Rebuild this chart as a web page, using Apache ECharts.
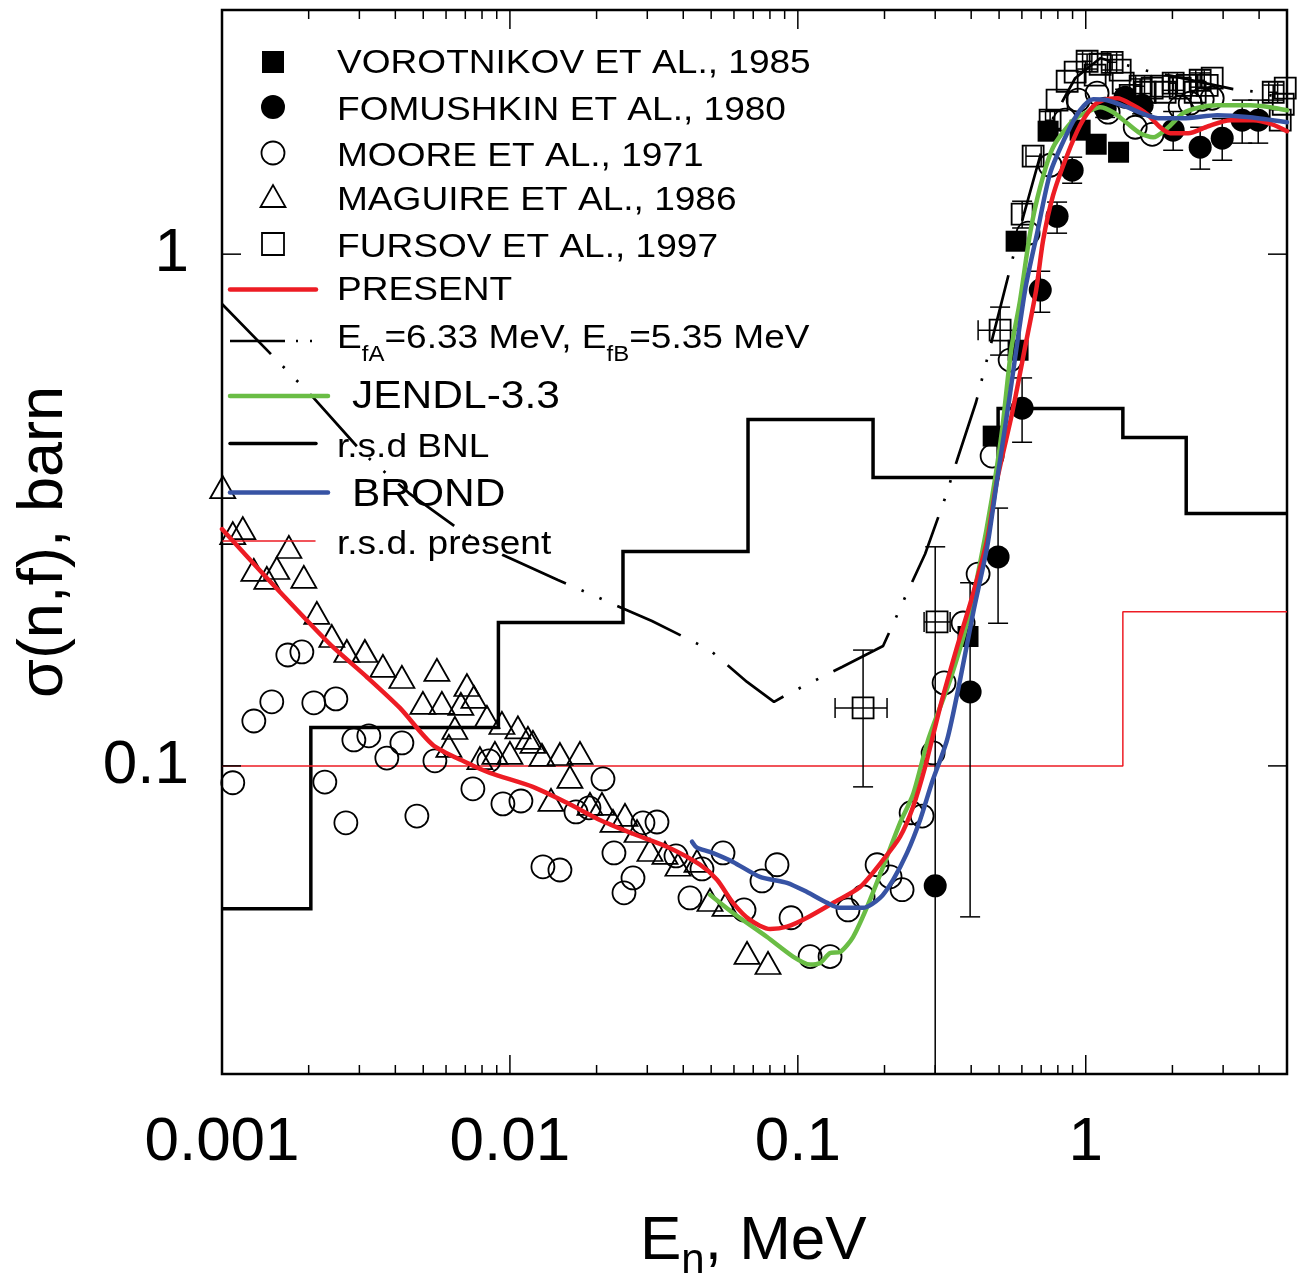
<!DOCTYPE html>
<html>
<head>
<meta charset="utf-8">
<title>Fission cross section</title>
<script src="https://cdn.jsdelivr.net/npm/echarts@6/dist/echarts.min.js"></script>
<style>
  html, body { margin: 0; padding: 0; background: #fff; }
  #chart { width: 1299px; height: 1282px; }
</style>
</head>
<body>
<div id="chart"></div>
<script>
// ---- axis ticks and labels ----
const xMajorTicks = [0.001, 0.01, 0.1, 1];
const xTickLabels = ['0.001', '0.01', '0.1', '1'];
const xMinorTicks = [0.002, 0.003, 0.004, 0.005, 0.006, 0.007, 0.008, 0.009,
                     0.02, 0.03, 0.04, 0.05, 0.06, 0.07, 0.08, 0.09,
                     0.2, 0.3, 0.4, 0.5, 0.6, 0.7, 0.8, 0.9, 2, 3, 4];
const yMajorTicks = [0.1, 1];
const yTickLabels = ['0.1', '1'];

// ---- experimental data: [E (MeV), sigma (b), ...] ----
// Vorotnikov et al., 1985
const vorotnikov = [[0.390, 0.179], [0.477, 0.441], [0.582, 0.649], [0.573, 1.060],
  [0.740, 1.739], [0.956, 1.747], [1.087, 1.640], [1.300, 1.582]];

// Fomushkin et al., 1980: [E, sigma, lower, upper]  (lower 0 = bar runs off the axis)
const fomushkin = [
  [0.300, 0.0583, 0, 0.268], [0.3966, 0.1395, 0.0507, 0.228], [0.496, 0.256, 0.190, 0.319],
  [0.601, 0.500, 0.429, 0.573], [0.695, 0.851, 0.770, 0.926], [0.795, 1.186, 1.099, 1.264],
  [0.897, 1.459, 1.376, 1.547], [1.168, 1.928, 1.85, 2.01], [1.370, 2.026, 1.95, 2.10],
  [1.570, 1.954, 1.88, 2.03], [2.012, 1.747, 1.596, 1.90], [2.497, 1.618, 1.466, 1.77],
  [2.978, 1.685, 1.526, 1.84], [3.494, 1.827, 1.648, 2.00], [3.972, 1.827, 1.648, 2.00]];

// Moore et al., 1971
const moore = [
  [0.00109, 0.0927], [0.00129, 0.1224], [0.001489, 0.1334], [0.001693, 0.1647], [0.001894, 0.1670],
  [0.002084, 0.1328], [0.002276, 0.0930], [0.002486, 0.1352], [0.002693, 0.0774], [0.002871, 0.1124],
  [0.003236, 0.1145], [0.003737, 0.1036], [0.004215, 0.1109], [0.004752, 0.0798], [0.005489, 0.1023],
  [0.007437, 0.0902], [0.008453, 0.1023], [0.009456, 0.0843], [0.01092, 0.0854], [0.01302, 0.0635],
  [0.01492, 0.0626], [0.01696, 0.0813], [0.01882, 0.0828], [0.02105, 0.0943], [0.02298, 0.0676],
  [0.0249, 0.0565], [0.02676, 0.0604], [0.02898, 0.0774], [0.03242, 0.0777], [0.03774, 0.0667],
  [0.04221, 0.0552], [0.04646, 0.0629], [0.05497, 0.0676], [0.06503, 0.0523], [0.07508, 0.0596],
  [0.08467, 0.0641], [0.09471, 0.0505], [0.1103, 0.0424], [0.1294, 0.0424], [0.1494, 0.0523],
  [0.1685, 0.0555], [0.1885, 0.0641], [0.2091, 0.0607], [0.2302, 0.0573], [0.2474, 0.0810],
  [0.2702, 0.0798], [0.2950, 0.1060], [0.3221, 0.1453], [0.3750, 0.1902], [0.4228, 0.2371],
  [0.4729, 0.4031], [0.5462, 0.6209], [0.6307, 1.099], [0.7520, 1.492], [0.8480, 1.827],
  [0.9410, 1.999], [1.095, 2.063], [1.196, 1.894], [1.485, 1.770], [1.701, 1.715],
  [2.128, 1.937], [2.306, 1.972], [2.538, 2.008], [2.749, 2.017]];

// Maguire et al., 1986
const maguire = [
  [0.001006, 0.3507], [0.00109, 0.2851], [0.001181, 0.2916], [0.001707, 0.2678], [0.00129, 0.2415],
  [0.00155, 0.2436], [0.001431, 0.2330], [0.001924, 0.2340], [0.002135, 0.1990], [0.002407, 0.1794],
  [0.002714, 0.1677], [0.003135, 0.1677], [0.003621, 0.1568], [0.004215, 0.1492], [0.005577, 0.1540],
  [0.004986, 0.1328], [0.005804, 0.1328], [0.00709, 0.1439], [0.007497, 0.1364], [0.006755, 0.1322],
  [0.00832, 0.1247], [0.00938, 0.1213], [0.00644, 0.1186], [0.006138, 0.1094], [0.007866, 0.1036],
  [0.00887, 0.1060], [0.0100, 0.1060], [0.01066, 0.1189], [0.01155, 0.1134], [0.01202, 0.1114],
  [0.01292, 0.1051], [0.01492, 0.1055], [0.01751, 0.1060], [0.01616, 0.0952], [0.01389, 0.0858],
  [0.01897, 0.0843], [0.02088, 0.0843], [0.0228, 0.0781], [0.0251, 0.0802], [0.02763, 0.0746],
  [0.03065, 0.0685], [0.03456, 0.0676], [0.03834, 0.0641], [0.04465, 0.0652], [0.04953, 0.0547],
  [0.05585, 0.0535], [0.06661, 0.0431], [0.07878, 0.0412]];

// Fursov et al., 1997: [E, sigma, Elow, Ehigh, sigmaLow, sigmaHigh]
const fursov = [
  [0.1685, 0.1298, 0.1347, 0.2041, 0.0910, 0.1684],
  [0.3045, 0.1911, 0.2745, 0.3380, null, null],
  [0.5041, 0.7102, 0.4228, 0.590, 0.635, 0.788],
  [0.6012, 1.197, null, null, 1.125, 1.269],
  [0.6565, 1.554, 0.620, 0.700, null, null],
  [0.7520, 1.827, 0.725, 0.780, 1.76, 1.90],
  [0.795, 1.999, null, null, null, null],
  [0.8618, 2.177, null, null, null, null],
  [0.9187, 2.268, null, null, null, null],
  [1.011, 2.382, 0.975, 1.050, 2.30, 2.46],
  [1.078, 2.237, null, null, null, null],
  [1.122, 2.350, null, null, null, null],
  [1.235, 2.371, 1.19, 1.28, 2.29, 2.45],
  [1.317, 2.288, null, null, null, null],
  [1.349, 2.158, null, null, null, null],
  [1.427, 2.044, null, null, null, null],
  [1.545, 2.129, 1.49, 1.60, 2.06, 2.20],
  [1.608, 2.072, null, null, null, null],
  [1.701, 2.110, null, null, null, null],
  [1.843, 2.129, null, null, null, null],
  [1.887, 2.072, null, null, null, null],
  [2.012, 2.158, 1.94, 2.08, 2.09, 2.23],
  [2.128, 2.110, null, null, null, null],
  [2.251, 2.138, null, null, null, null],
  [2.399, 2.072, null, null, null, null],
  [2.497, 2.187, 2.41, 2.58, 2.12, 2.26],
  [2.641, 2.138, null, null, null, null],
  [2.749, 2.207, null, null, null, null],
  [4.478, 2.072, 4.32, 4.64, 2.00, 2.14],
  [4.93, 2.110, null, null, null, null],
  [4.852, 1.963, null, null, null, null],
  [4.736, 1.827, null, null, null, null]];

// ---- evaluated / calculated curves ----
const present = [
  [0.001, 0.2903], [0.001431, 0.2330], [0.001864, 0.1990], [0.002427, 0.1708], [0.003185, 0.1492],
  [0.004148, 0.1298], [0.0054, 0.1099], [0.00709, 0.1014], [0.008522, 0.0969], [0.01202, 0.0910],
  [0.01578, 0.0847], [0.02054, 0.0784], [0.02676, 0.0737], [0.03512, 0.0695], [0.04573, 0.0641],
  [0.05239, 0.0599], [0.05955, 0.0540], [0.06823, 0.0500], [0.0801, 0.0480], [0.0917, 0.0485],
  [0.1076, 0.0505], [0.1326, 0.0540], [0.1645, 0.0580], [0.1977, 0.0655], [0.2265, 0.0727],
  [0.2514, 0.0832], [0.2767, 0.0995], [0.3120, 0.1303], [0.3574, 0.1708], [0.4030, 0.2138],
  [0.4545, 0.2763], [0.4921, 0.3620], [0.5551, 0.4892], [0.6157, 0.6584], [0.6725, 0.851],
  [0.7112, 1.065], [0.7703, 1.304], [0.8618, 1.561], [0.9561, 1.786], [1.061, 1.945],
  [1.150, 1.999], [1.286, 2.017], [1.461, 1.954], [1.634, 1.877], [1.813, 1.770],
  [1.965, 1.723], [2.269, 1.723], [2.663, 1.778], [3.175, 1.827], [3.816, 1.827],
  [4.442, 1.794], [5.0, 1.739]];

const jendl = [
  [0.04953, 0.0560], [0.05955, 0.0516], [0.0782, 0.0463], [0.0962, 0.0424], [0.1103, 0.0409],
  [0.1195, 0.0412], [0.1294, 0.0431], [0.1402, 0.0433], [0.1555, 0.0463], [0.1740, 0.0530],
  [0.1977, 0.0635], [0.2265, 0.0774], [0.2514, 0.0880], [0.2835, 0.1124], [0.3380, 0.1472],
  [0.3872, 0.1902], [0.4296, 0.2492], [0.4729, 0.3353], [0.5122, 0.4532], [0.5506, 0.6494],
  [0.5916, 0.8133], [0.6408, 1.099], [0.6944, 1.352], [0.7703, 1.618], [0.9041, 1.827],
  [1.011, 1.894], [1.122, 1.937], [1.245, 1.894], [1.393, 1.802], [1.545, 1.723],
  [1.715, 1.692], [1.918, 1.762], [2.180, 1.886], [2.497, 1.937], [2.861, 1.954],
  [3.726, 1.954], [4.372, 1.937], [5.0, 1.911]];

const brond = [
  [0.0429, 0.0711], [0.04465, 0.0692], [0.04953, 0.0679], [0.05955, 0.0649], [0.0739, 0.0607],
  [0.0917, 0.0591], [0.1076, 0.0567], [0.1264, 0.0540], [0.1402, 0.0528], [0.1685, 0.0528],
  [0.1930, 0.0552], [0.2142, 0.0599], [0.2395, 0.0676], [0.2658, 0.0784], [0.2927, 0.0930],
  [0.3299, 0.1124], [0.3660, 0.1472], [0.4062, 0.1990], [0.4545, 0.2678], [0.4921, 0.3620],
  [0.5418, 0.5187], [0.6157, 0.851], [0.6778, 1.099], [0.7520, 1.439], [0.8618, 1.723],
  [0.9561, 1.911], [1.061, 2.008], [1.187, 1.999], [1.393, 1.937], [1.634, 1.868],
  [1.813, 1.843], [2.180, 1.843], [2.861, 1.868], [3.726, 1.851], [5.0, 1.810]];

// calculation with barrier heights EfA = 6.33 MeV, EfB = 5.35 MeV
const barrierCalc = [
  [0.001, 0.799], [0.001538, 0.6237], [0.002084, 0.5233], [0.003085, 0.4087], [0.004458, 0.3413],
  [0.006866, 0.2864], [0.009456, 0.2583], [0.01468, 0.2308], [0.02006, 0.2138], [0.03114, 0.1919],
  [0.0429, 0.1754], [0.04953, 0.1684], [0.06661, 0.1459], [0.08265, 0.1334], [0.0910, 0.1376],
  [0.1424, 0.1561], [0.1977, 0.1715], [0.2395, 0.2177], [0.2767, 0.2595], [0.3247, 0.3338],
  [0.3574, 0.3960], [0.4161, 0.5141], [0.5041, 0.7843], [0.6060, 1.181], [0.7400, 1.770],
  [0.9187, 2.207], [1.122, 2.415], [1.393, 2.340], [1.545, 2.298], [3.253, 2.101],
  [4.036, 2.072], [5.0, 1.999]];

// relative standard deviations (group-wise histograms)
const bnlEdges = [0.001, 0.002035, 0.00912, 0.0247, 0.06714, 0.1825, 0.4961, 1.3455, 2.233, 5];
const bnlRsd = [0.0526, 0.1189, 0.1907, 0.2624, 0.4751, 0.3661, 0.4995, 0.4385, 0.3115];
const presentRsdEdges = [0.001, 1.3455, 5];
const presentRsd = [0.1, 0.2];

// ---- helpers ----
const FONT = '"Liberation Sans", Arial, Helvetica, sans-serif';
const RED = '#ED1C24', GREEN = '#6ABD45', BLUE = '#3753A4';
const CAP = 10;

function stepPoints(edges, vals) {
  const pts = edges.slice(0, -1).map((e, i) => [e, vals[i]]);
  pts.push([edges[edges.length - 1], vals[vals.length - 1]]);
  return pts;
}

function tickLabel(ticks, labels) {
  return function (v) {
    for (let i = 0; i < ticks.length; i++) {
      if (Math.abs(Math.log10(v) - Math.log10(ticks[i])) < 1e-6) return labels[i];
    }
    return '';
  };
}

function seg(x1, y1, x2, y2, w) {
  return { type: 'line', shape: { x1: x1, y1: y1, x2: x2, y2: y2 },
           style: { stroke: '#000', lineWidth: w || 1.5 } };
}

// vertical error bars with caps; optional horizontal bars
function errorRender(xLoDim, xHiDim, yLoDim, yHiDim) {
  return function (params, api) {
    const cs = params.coordSys;
    const e = api.value(0), s = api.value(1);
    const c = api.coord([e, s]);
    const kids = [];
    if (yHiDim != null) {
      const hi = api.value(yHiDim);
      if (!isNaN(hi)) {
        const yt = api.coord([e, hi])[1];
        kids.push(seg(c[0], c[1], c[0], yt), seg(c[0] - CAP, yt, c[0] + CAP, yt));
      }
    }
    if (yLoDim != null) {
      const lo = api.value(yLoDim);
      if (!isNaN(lo)) {
        if (lo > 0) {
          const yb = api.coord([e, lo])[1];
          kids.push(seg(c[0], c[1], c[0], yb), seg(c[0] - CAP, yb, c[0] + CAP, yb));
        } else {
          kids.push(seg(c[0], c[1], c[0], cs.y + cs.height));
        }
      }
    }
    if (xLoDim != null) {
      const lo = api.value(xLoDim), hi = api.value(xHiDim);
      if (!isNaN(lo) && !isNaN(hi)) {
        const xl = api.coord([lo, s])[0], xr = api.coord([hi, s])[0];
        kids.push(seg(xl, c[1], xr, c[1]),
                  seg(xl, c[1] - CAP, xl, c[1] + CAP),
                  seg(xr, c[1] - CAP, xr, c[1] + CAP));
      }
    }
    return { type: 'group', children: kids };
  };
}

function xTickRender(params, api) {
  const cs = params.coordSys;
  const x = api.coord([api.value(0), 1])[0];
  const len = api.value(2) ? 19 : 9;
  const b = cs.y + cs.height;
  return { type: 'group', children: [seg(x, b, x, b - len), seg(x, cs.y, x, cs.y + len)] };
}

function yTickRender(params, api) {
  const cs = params.coordSys;
  const y = api.coord([0.01, api.value(1)])[1];
  const r = cs.x + cs.width;
  return { type: 'group', children: [seg(cs.x, y, cs.x + 19, y), seg(r, y, r - 19, y)] };
}

function lineSeries(name, data, color, width, extra) {
  return Object.assign({
    name: name, type: 'line', data: data, showSymbol: false, symbol: 'none',
    smooth: 0.25, z: 4, silent: true,
    lineStyle: { color: color, width: width, cap: 'round', join: 'round' }
  }, extra || {});
}

const openStyle = { color: 'rgba(0,0,0,0)', borderColor: '#000', borderWidth: 1.8, opacity: 1 };
const solidStyle = { color: '#000', opacity: 1 };

// ---- legend (drawn inside the frame, upper left) ----
function legendText(x, y, text, size) {
  return { type: 'text', x: x, y: y, scaleX: 1.09, z: 100, silent: true,
    style: { text: text, font: size + 'px ' + FONT, fill: '#000', align: 'left', verticalAlign: 'middle' } };
}
function legendLine(x1, x2, y, color, w, dash) {
  return { type: 'line', z: 100, silent: true, shape: { x1: x1, y1: y, x2: x2, y2: y },
    style: { stroke: color, lineWidth: w, lineDash: dash || null, lineCap: dash ? 'butt' : 'round' } };
}

const legend = [
  { type: 'rect', z: 100, shape: { x: 262, y: 51, width: 22, height: 22 }, style: { fill: '#000' } },
  { type: 'circle', z: 100, shape: { cx: 273, cy: 107, r: 12 }, style: { fill: '#000' } },
  { type: 'circle', z: 100, shape: { cx: 273, cy: 153, r: 11.5 }, style: { fill: 'none', stroke: '#000', lineWidth: 1.8 } },
  { type: 'polygon', z: 100, shape: { points: [[260.5, 207], [285.5, 207], [273, 185]] }, style: { fill: 'none', stroke: '#000', lineWidth: 1.8 } },
  { type: 'rect', z: 100, shape: { x: 262, y: 233, width: 22, height: 22 }, style: { fill: 'none', stroke: '#000', lineWidth: 1.8 } },
  legendLine(230, 316, 289.5, RED, 4.5),
  legendLine(230, 316, 341, '#000', 2.5, [55, 11, 2, 12, 2, 12]),
  legendLine(230, 328, 396, GREEN, 4.5),
  legendLine(230, 316, 443.5, '#000', 3.5),
  legendLine(230, 328, 492.5, BLUE, 4.5),
  legendLine(223, 315, 541, RED, 1.5),
  legendText(337, 64, 'VOROTNIKOV ET AL., 1985', 34),
  legendText(337, 111, 'FOMUSHKIN ET AL., 1980', 34),
  legendText(337, 157, 'MOORE ET AL., 1971', 34),
  legendText(337, 201, 'MAGUIRE ET AL., 1986', 34),
  legendText(337, 248, 'FURSOV ET AL., 1997', 34),
  legendText(337, 291, 'PRESENT', 34),
  { type: 'text', x: 337, y: 339, scaleX: 1.09, z: 100, silent: true,
    style: { text: '{a|E}{b|fA}{a|=6.33 MeV, E}{b|fB}{a|=5.35 MeV}', fill: '#000',
      align: 'left', verticalAlign: 'middle',
      rich: { a: { fontSize: 34, fontFamily: FONT, lineHeight: 54 },
              b: { fontSize: 22, fontFamily: FONT, lineHeight: 22, verticalAlign: 'bottom' } } } },
  legendText(352, 397, 'JENDL-3.3', 39),
  legendText(337, 448, 'r.s.d BNL', 34),
  legendText(352, 495, 'BROND', 39),
  legendText(337, 545, 'r.s.d. present', 34)
];

// ---- axis titles ----
const titles = [
  { type: 'text', x: 45, y: 542, rotation: Math.PI / 2, silent: true,
    style: { text: 'σ(n,f), barn', font: '63px ' + FONT, fill: '#000', align: 'center', verticalAlign: 'middle' } },
  { type: 'text', x: 640, y: 1242, silent: true,
    style: { text: '{a|E}{b|n}{a|, MeV}', fill: '#000', align: 'left', verticalAlign: 'middle',
      rich: { a: { fontSize: 62, fontFamily: FONT, lineHeight: 80 },
              b: { fontSize: 42, fontFamily: FONT, lineHeight: 34, verticalAlign: 'bottom' } } } }
];

const chart = echarts.init(document.getElementById('chart'), null, { renderer: 'canvas' });
chart.setOption({
  animation: false,
  backgroundColor: '#fff',
  grid: { show: true, left: 222, right: 12, top: 10, bottom: 208,
          borderColor: '#000', borderWidth: 2.5, backgroundColor: 'rgba(0,0,0,0)',
          containLabel: false, outerBoundsMode: 'none' },
  xAxis: {
    type: 'log', logBase: 10, min: 0.001, max: 5,
    axisLine: { show: false }, axisTick: { show: false }, splitLine: { show: false },
    minorTick: { show: false }, minorSplitLine: { show: false },
    axisLabel: { formatter: tickLabel(xMajorTicks, xTickLabels), color: '#000',
                 fontSize: 62, fontFamily: FONT, margin: 38, showMinLabel: true, showMaxLabel: true }
  },
  yAxis: {
    type: 'log', logBase: 10, min: 0.025, max: 3,
    axisLine: { show: false }, axisTick: { show: false }, splitLine: { show: false },
    minorTick: { show: false }, minorSplitLine: { show: false },
    axisLabel: { formatter: tickLabel(yMajorTicks, yTickLabels), color: '#000',
                 fontSize: 62, fontFamily: FONT, margin: 33 }
  },
  graphic: titles.concat(legend),
  series: [
    { name: 'r.s.d BNL', type: 'line', step: 'end', data: stepPoints(bnlEdges, bnlRsd),
      showSymbol: false, symbol: 'none', z: 2, silent: true,
      lineStyle: { color: '#000', width: 3.5, join: 'miter' } },
    { name: 'r.s.d. present', type: 'line', step: 'end', data: stepPoints(presentRsdEdges, presentRsd),
      showSymbol: false, symbol: 'none', z: 2, silent: true,
      lineStyle: { color: RED, width: 1.5 } },
    { name: 'EfA=6.33 MeV, EfB=5.35 MeV', type: 'line', data: barrierCalc,
      showSymbol: false, symbol: 'none', z: 3, silent: true,
      lineStyle: { color: '#000', width: 2.7, type: [70, 17, 2.5, 17, 2.5, 17] } },
    { name: 'MOORE ET AL., 1971', type: 'scatter', data: moore, symbol: 'circle', symbolSize: 23,
      itemStyle: openStyle, z: 3, silent: true },
    { name: 'MAGUIRE ET AL., 1986', type: 'scatter', data: maguire, symbol: 'triangle', symbolSize: [25, 22],
      itemStyle: openStyle, z: 3, silent: true },
    { name: 'FURSOV ET AL., 1997', type: 'scatter', data: fursov, encode: { x: 0, y: 1 },
      symbol: 'rect', symbolSize: 21, itemStyle: openStyle, z: 3, silent: true },
    { name: 'FURSOV errors', type: 'custom', data: fursov, encode: { x: 0, y: 1 }, z: 3, silent: true,
      clip: true, renderItem: errorRender(2, 3, 4, 5) },
    { name: 'FOMUSHKIN errors', type: 'custom', data: fomushkin, encode: { x: 0, y: 1 }, z: 3, silent: true,
      clip: true, renderItem: errorRender(null, null, 2, 3) },
    { name: 'FOMUSHKIN ET AL., 1980', type: 'scatter', data: fomushkin, encode: { x: 0, y: 1 },
      symbol: 'circle', symbolSize: 23, itemStyle: solidStyle, z: 3, silent: true },
    { name: 'VOROTNIKOV ET AL., 1985', type: 'scatter', data: vorotnikov, symbol: 'rect', symbolSize: 21,
      itemStyle: solidStyle, z: 3, silent: true },
    lineSeries('JENDL-3.3', jendl, GREEN, 4.5),
    lineSeries('PRESENT', present, RED, 4.5),
    lineSeries('BROND', brond, BLUE, 4.5),
    { name: 'x ticks', type: 'custom', silent: true, z: 6,
      data: xMajorTicks.map(v => [v, 1, 1]).concat(xMinorTicks.map(v => [v, 1, 0])),
      encode: { x: 0, y: 1 }, renderItem: xTickRender },
    { name: 'y ticks', type: 'custom', silent: true, z: 6,
      data: yMajorTicks.map(v => [0.01, v]), encode: { x: 0, y: 1 }, renderItem: yTickRender }
  ]
});
</script>
</body>
</html>
